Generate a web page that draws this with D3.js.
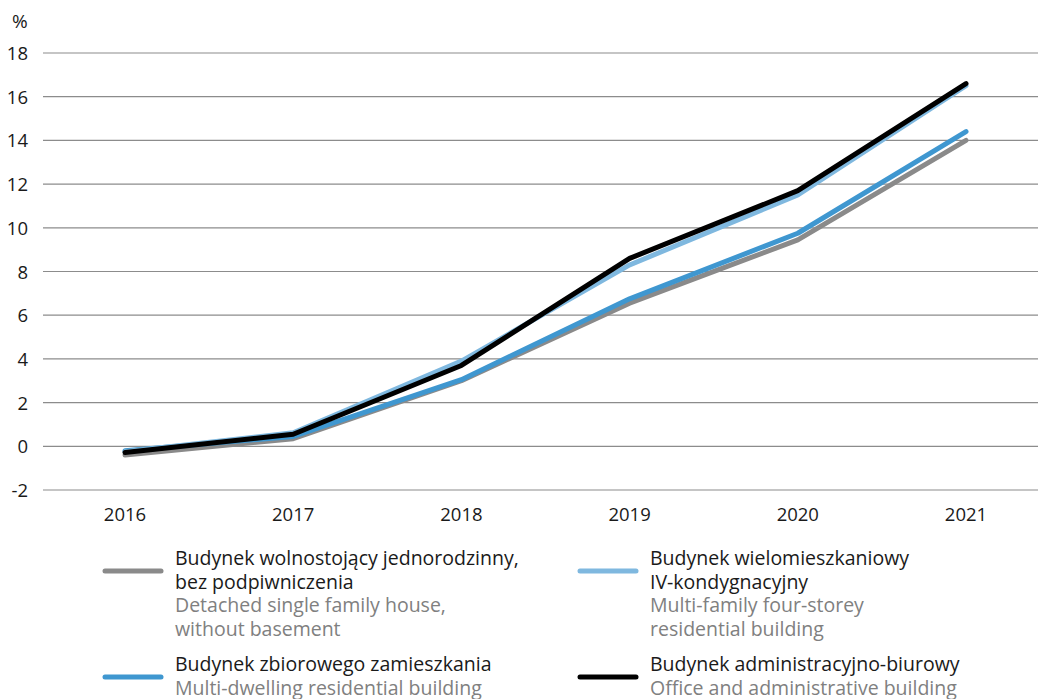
<!DOCTYPE html>
<html>
<head>
<meta charset="utf-8">
<script src="https://cdn.jsdelivr.net/npm/d3@7"></script>
<style>
  body { margin: 0; background: #fff; }
  text { font-family: "Open Sans", "Noto Sans", sans-serif; }
</style>
</head>
<body>
<div id="vis"></div>
<script>
// data
const YEARS = ["2016", "2017", "2018", "2019", "2020", "2021"];
const DETACHED = [-0.4, 0.35, 3.0, 6.55, 9.45, 14.0];
const MULTI_DWELLING = [-0.2, 0.45, 3.05, 6.75, 9.75, 14.4];
const FOUR_STOREY = [-0.25, 0.62, 3.9, 8.3, 11.5, 16.5];
const OFFICE = [-0.28, 0.55, 3.7, 8.6, 11.7, 16.6];
const Y_TICKS = [-2, 0, 2, 4, 6, 8, 10, 12, 14, 16, 18];

const SERIES = [
  {pl: ["Budynek wolnostojący jednorodzinny,", "bez podpiwniczenia"], en: ["Detached single family house,", "without basement"], values: DETACHED, color: "#8a8a8a"},
  {pl: ["Budynek zbiorowego zamieszkania"], en: ["Multi-dwelling residential building"], values: MULTI_DWELLING, color: "#3f97d0"},
  {pl: ["Budynek wielomieszkaniowy", "IV-kondygnacyjny"], en: ["Multi-family four-storey", "residential building"], values: FOUR_STOREY, color: "#7fb8df"},
  {pl: ["Budynek administracyjno-biurowy"], en: ["Office and administrative building"], values: OFFICE, color: "#000000"}
];

// declare constants
const FRAME_WIDTH = 1038;
const FRAME_HEIGHT = 699;
const PLOT = {left: 43, right: 1038, top: 53, bottom: 490};

const SVG = d3.select("#vis")
  .append("svg")
    .attr("width", FRAME_WIDTH)
    .attr("height", FRAME_HEIGHT);

// scales
const X_SCALE = d3.scalePoint()
  .domain(YEARS)
  .range([125, 966]);
const Y_SCALE = d3.scaleLinear()
  .domain([-2, 18])
  .range([PLOT.bottom, PLOT.top]);

// gridlines
SVG.append("g")
  .selectAll("line")
  .data(Y_TICKS)
  .enter()
  .append("line")
    .attr("x1", PLOT.left)
    .attr("x2", PLOT.right)
    .attr("y1", d => Y_SCALE(d))
    .attr("y2", d => Y_SCALE(d))
    .attr("stroke", "#8c8c8c")
    .attr("stroke-width", 1.2);

// y axis labels
SVG.append("g")
  .selectAll("text")
  .data(Y_TICKS)
  .enter()
  .append("text")
    .attr("x", 28)
    .attr("y", d => Y_SCALE(d) + 7)
    .attr("text-anchor", "end")
    .attr("font-size", "18.5px")
    .attr("fill", "#1a1a1a")
    .text(d => d);

SVG.append("text")
  .attr("x", 12)
  .attr("y", 28)
  .attr("font-size", "19px")
  .attr("fill", "#1a1a1a")
  .text("%");

// x axis labels
SVG.append("g")
  .selectAll("text")
  .data(YEARS)
  .enter()
  .append("text")
    .attr("x", d => X_SCALE(d))
    .attr("y", 521)
    .attr("text-anchor", "middle")
    .attr("font-size", "18.5px")
    .attr("fill", "#1a1a1a")
    .text(d => d);

// lines
const LINE = d3.line()
  .x((d, i) => X_SCALE(YEARS[i]))
  .y(d => Y_SCALE(d));

SVG.append("g")
  .selectAll("path")
  .data(SERIES)
  .enter()
  .append("path")
    .attr("d", d => LINE(d.values))
    .attr("fill", "none")
    .attr("stroke", d => d.color)
    .attr("stroke-width", 5)
    .attr("stroke-linecap", "round")
    .attr("stroke-linejoin", "round");

// legend
const LEGEND_POS = [
  {x: 103, y: 559},
  {x: 103, y: 665},
  {x: 578, y: 559},
  {x: 578, y: 665}
];

const LEG = SVG.append("g")
  .selectAll("g")
  .data(SERIES)
  .enter()
  .append("g")
    .attr("transform", (d, i) => "translate(" + LEGEND_POS[i].x + "," + LEGEND_POS[i].y + ")");

LEG.append("line")
  .attr("x1", 2)
  .attr("x2", 58)
  .attr("y1", 12)
  .attr("y2", 12)
  .attr("stroke", d => d.color)
  .attr("stroke-width", 5)
  .attr("stroke-linecap", "round");

LEG.each(function(d) {
  const g = d3.select(this);
  const lines = d.pl.map(t => ({t: t, c: "#1a1a1a"}))
    .concat(d.en.map(t => ({t: t, c: "#808080"})));
  g.selectAll("text")
    .data(lines)
    .enter()
    .append("text")
      .attr("x", 72)
      .attr("y", (l, i) => i * 23.5 + 6)
      .attr("font-size", "19.5px")
      .attr("fill", l => l.c)
      .text(l => l.t);
});
</script>
</body>
</html>
